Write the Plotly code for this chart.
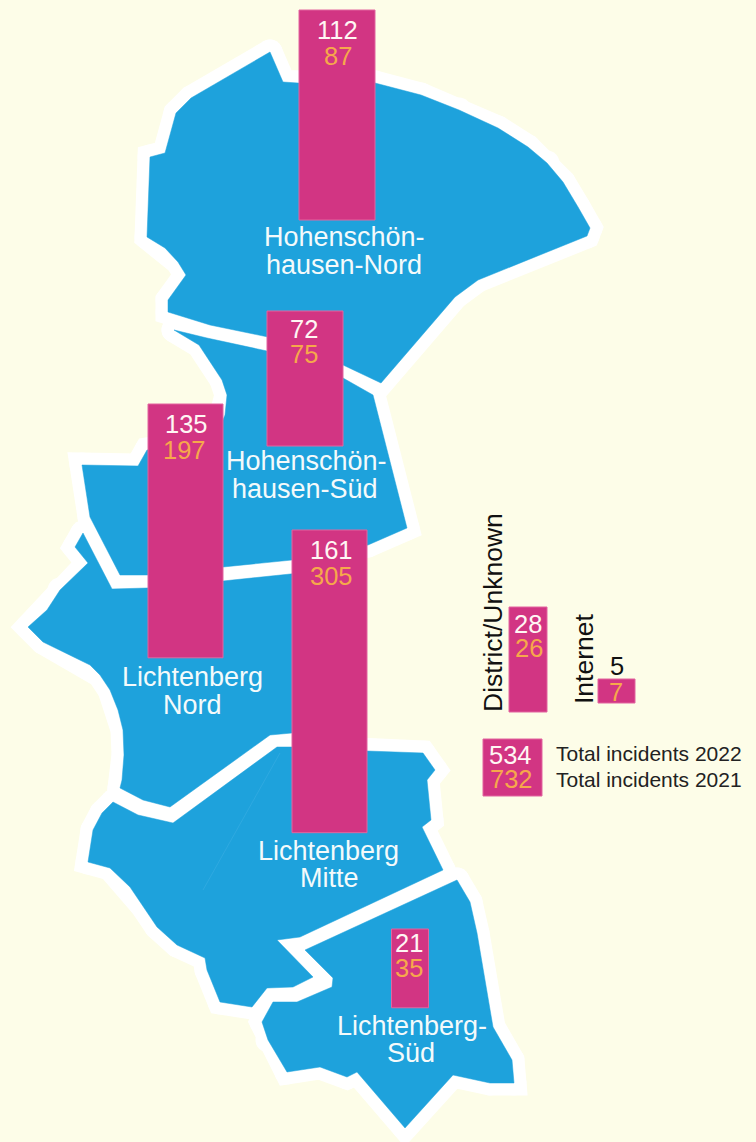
import plotly.graph_objects as go

# ---- data ----
districts = ["Hohenschön-hausen-Nord", "Hohenschön-hausen-Süd", "Lichtenberg Nord", "Lichtenberg Mitte",
             "Lichtenberg-Süd", "District/Unknown", "Internet"]
incidents_2022 = [112, 72, 135, 161, 21, 28, 5]
incidents_2021 = [87, 75, 197, 305, 35, 26, 7]
total_2022 = 534
total_2021 = 732

# map outlines (page pixels)
hs_nord = [(270,52),(283,82),(298,83),(375,83),(421,95),(459,110),(498,128),(528,147),(547,163),(563,182),(578,207),
           (590,228),(587,236),(478,280),(455,297),(381,383),(343,365),(268,337),(210,325),(168,312),(168,300),
           (186,275),(178,262),(165,248),(147,237),(150,157),(165,153),(176,113),(191,98)]
hs_sued = [(174,330),(207,338),(267,351),(343,378),(373,395),(407,528),(368,545),(292,560),(223,567),(147,575),
           (120,575),(90,517),(82,465),(138,466),(147,450),(215,440),(225,415),(227,395),(222,380),(199,345)]
l_nord = [(83,533),(75,547),(88,563),(60,590),(47,610),(28,627),(43,642),(90,665),(100,675),(110,690),(118,710),
          (123,730),(124,755),(122,780),(120,788),(143,800),(170,807),(270,735),(292,733),(300,733),(300,573),
          (223,581),(147,588),(112,589)]
l_mitte = [(113,802),(138,815),(173,823),(277,747),(292,747),(367,751),(423,753),(435,770),(427,780),(431,820),
           (422,827),(443,870),(300,937),(277,940),(313,977),(293,987),(267,988),(252,1007),(220,1002),(207,970),
           (205,958),(177,945),(157,927),(142,905),(130,887),(110,868),(88,862),(93,830),(102,813)]
l_sued = [(457,880),(470,902),(477,933),(493,1027),(512,1060),(514,1083),(490,1083),(453,1075),(405,1128),
          (357,1072),(347,1077),(320,1067),(287,1072),(268,1040),(262,1022),(273,1002),(297,1002),(332,987),
          (333,978),(305,950)]
regions = [hs_nord, hs_sued, l_nord, l_mitte, l_sued]
faint_line = [(280,753),(203,890)]

# layout of bars and labels
bar_centers = [337, 305, 185.5, 329.5, 410, 528, 616.5]
bar_tops = [10, 311, 404, 530, 929, 607, 679]
bar_widths = [76, 76, 75, 75, 37, 38, 37]
px_per_case = [1.875, 1.875, 1.88, 1.88, 3.75, 3.75, 4.8]
y22_pos = [(337,30),(304,329),(186,424),(331,550),(409,943),(528,624),(617,666)]
y21_pos = [(338,56),(304,354),(184,450),(331,576),(409,968),(529,648),(616,692)]
y22_colors = ["#FFF6F4"] * 6 + ["#111111"]

map_labels = [("Hohenschön-",344,237),("hausen-Nord",344,265),("Hohenschön-",306,461),("hausen-Süd",305,489),
              ("Lichtenberg",192,677),("Nord",192,705),("Lichtenberg",328,851),("Mitte",329,878),
              ("Lichtenberg-",412,1026),("Süd",411,1053)]

PINK, BLUE, BG, ORANGE = "#D23583", "#1EA2DC", "#FDFDE8", "#F6A84B"
FONT = "Liberation Sans, Arial, sans-serif"

fig = go.Figure()
for r in regions:
    xs = [p[0] for p in r] + [r[0][0]]
    ys = [p[1] for p in r] + [r[0][1]]
    fig.add_trace(go.Scatter(x=xs, y=ys, mode="lines+markers", line=dict(color="white", width=25),
                             marker=dict(color="white", size=25, line=dict(width=0)),
                             hoverinfo="skip", showlegend=False))
for r in regions:
    xs = [p[0] for p in r] + [r[0][0]]
    ys = [p[1] for p in r] + [r[0][1]]
    fig.add_trace(go.Scatter(x=xs, y=ys, mode="lines", fill="toself", fillcolor=BLUE,
                             line=dict(color=BLUE, width=0.5), hoverinfo="skip", showlegend=False))
fig.add_trace(go.Scatter(x=[p[0] for p in faint_line], y=[p[1] for p in faint_line], mode="lines",
                         line=dict(color="#2FA9E0", width=1), hoverinfo="skip", showlegend=False))

heights = [v * s for v, s in zip(incidents_2022, px_per_case)]
fig.add_trace(go.Bar(x=bar_centers, y=heights, base=bar_tops, width=bar_widths, xaxis="x2", yaxis="y2",
                     marker=dict(color=PINK, line=dict(color="#E2659F", width=1)),
                     customdata=districts, hoverinfo="skip", showlegend=False))
fig.add_trace(go.Bar(x=[512.5], y=[57], base=[739], width=[59], xaxis="x2", yaxis="y2",
                     marker=dict(color=PINK, line=dict(color="#E2659F", width=1)),
                     hoverinfo="skip", showlegend=False))

ann = []
def note(text, x, y, size, color, angle=0, anchor="center"):
    ann.append(dict(text=text, x=x, y=y, xref="x", yref="y", showarrow=False, xanchor=anchor, yanchor="middle",
                    textangle=angle, font=dict(family=FONT, size=size, color=color)))

for v, p, c in zip(incidents_2022, y22_pos, y22_colors):
    note(str(v), p[0], p[1], 25.5, c)
for v, p in zip(incidents_2021, y21_pos):
    note(str(v), p[0], p[1], 25.5, ORANGE)
for t, x, y in map_labels:
    note(t, x, y, 27, "#F4FAFB")
note("District/Unknown", 493, 613, 26.5, "#111111", angle=-90)
note("Internet", 584, 659, 26.5, "#111111", angle=-90)
note(str(total_2022), 510, 755, 25.5, "#FFF6F4")
note(str(total_2021), 511, 779, 25.5, ORANGE)
note("Total incidents 2022", 553.5, 753, 21, "#222222", anchor="left")
note("Total incidents 2021", 553.5, 779, 21, "#222222", anchor="left")

hidden = dict(visible=False, showgrid=False, zeroline=False)
fig.update_layout(
    width=756, height=1142, margin=dict(l=0, r=0, t=0, b=0), autosize=False,
    paper_bgcolor=BG, plot_bgcolor=BG, barmode="overlay", annotations=ann, showlegend=False,
    xaxis=dict(range=[0, 756], domain=[0, 1], **hidden),
    yaxis=dict(range=[1142, 0], domain=[0, 1], **hidden),
    xaxis2=dict(range=[0, 756], overlaying="x", **hidden),
    yaxis2=dict(range=[1142, 0], overlaying="y", **hidden),
)
fig.write_html("out.html", post_script="document.body.style.margin='0';", config=dict(displayModeBar=False))
